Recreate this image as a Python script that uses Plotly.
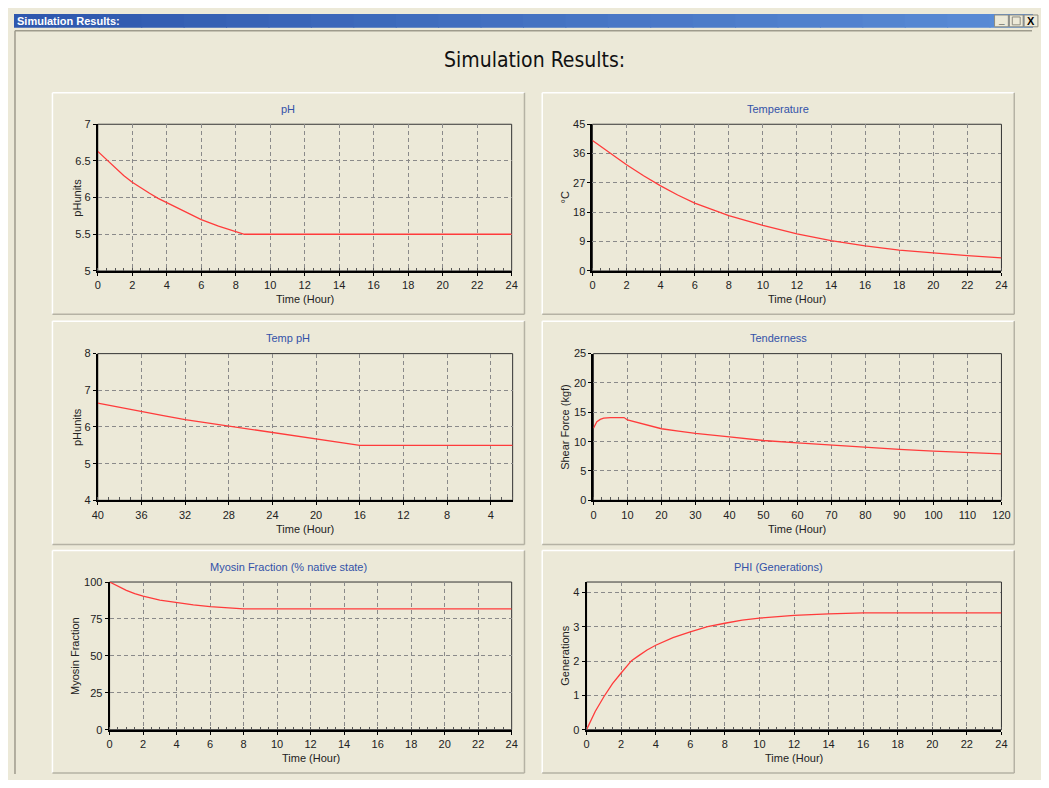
import plotly.graph_objects as go

# page is 1049x788; the HTML body keeps an 8px margin, so the figure is 1033x772
PAGE_W, PAGE_H = 1049, 788
OFF = 8
W, H = PAGE_W - 2 * OFF, PAGE_H - 2 * OFF

# ---------------- data ----------------
ph_t = [0, 0.5, 1, 1.5, 2, 2.5, 3, 3.5, 4, 5, 6, 7, 8, 8.5, 24]
ph_v = [6.63, 6.52, 6.41, 6.30, 6.21, 6.13, 6.06, 5.99, 5.93, 5.81, 5.70, 5.61, 5.54, 5.50, 5.50]

temp_t = [0, 1, 2, 3, 4, 5, 6, 7, 8, 10, 12, 14, 16, 18, 20, 22, 24]
temp_v = [40.0, 36.3, 32.6, 29.2, 26.1, 23.3, 20.8, 18.9, 17.0, 14.0, 11.4, 9.3, 7.7, 6.4, 5.5, 4.7, 4.0]

tph_t = [40, 38, 36, 34, 32, 30, 28, 26, 24, 22, 20, 18, 16, 2]
tph_v = [6.65, 6.53, 6.42, 6.31, 6.20, 6.11, 6.02, 5.93, 5.84, 5.76, 5.67, 5.58, 5.50, 5.50]

tend_t = [0, 0.5, 1, 2, 3, 5, 8, 9, 10, 12, 15, 20, 25, 30, 40, 50, 60, 70, 80, 90, 100, 110, 120]
tend_v = [12.3, 13.0, 13.4, 13.8, 14.0, 14.1, 14.15, 14.1, 13.7, 13.4, 12.9, 12.2, 11.8, 11.4,
          10.8, 10.2, 9.8, 9.4, 9.0, 8.7, 8.4, 8.1, 7.9]

myo_t = [0, 0.5, 1, 1.5, 2, 3, 4, 5, 6, 7, 8, 24]
myo_v = [100, 97.0, 94.4, 92.2, 90.4, 87.8, 86.0, 84.5, 83.4, 82.5, 81.8, 81.8]

phi_t = [0, 0.5, 1, 1.5, 2, 2.6, 3, 3.5, 4, 5, 6, 7, 8, 9, 10, 12, 14, 16, 24]
phi_v = [0, 0.53, 0.96, 1.34, 1.65, 2.01, 2.15, 2.32, 2.46, 2.68, 2.85, 3.0, 3.1, 3.19, 3.25,
         3.33, 3.37, 3.40, 3.40]

panel_titles = ["pH", "Temperature", "Temp pH", "Tenderness",
                "Myosin Fraction (% native state)", "PHI (Generations)"]
y_titles = ["pHunits", "°C", "pHunits", "Shear Force (kgf)", "Myosin Fraction", "Generations"]
x_title = "Time (Hour)"
main_title = "Simulation Results:"
window_title = "Simulation Results:"

series = [(ph_t, ph_v), (temp_t, temp_v), (tph_t, tph_v),
          (tend_t, tend_v), (myo_t, myo_v), (phi_t, phi_v)]

# axis settings: (x range, x dtick, x minor dtick, y range, y dtick)
axis_cfg = [
    ([0, 24], 2, 0.5, [5, 7], 0.5),
    ([0, 24], 2, 0.5, [0, 45], 9),
    ([40, 2], 4, 1, [4, 8], 1),
    ([0, 120], 10, 2.5, [0, 25], 5),
    ([0, 24], 2, 0.5, [0, 100], 25),
    ([0, 24], 2, 0.5, [0, 4.3], 1),
]

# ---------------- layout geometry (page pixels) ----------------
plot_px = [
    (93, 120, 513, 269),
    (595, 120, 1010, 269),
    (93, 353, 514, 502),
    (596, 353, 1010, 502),
    (105, 585, 513, 735),
    (589, 585, 1010, 735),
]
panel_px = [
    (47, 88, 526, 313),
    (544, 88, 1023, 313),
    (47, 320, 526, 547),
    (544, 320, 1023, 547),
    (47, 553, 526, 779),
    (544, 553, 1023, 779),
]
ytitle_x = [72, 567, 72, 567, 70, 567]


def X(px):
    return (px - OFF) / W


def Y(py):
    return 1 - (py - OFF) / H


BG = "#ECE9D8"
FONT = "Liberation Sans, Arial, sans-serif"

fig = go.Figure()
layout = dict(
    width=W, height=H, autosize=False,
    margin=dict(l=0, r=0, t=0, b=0),
    paper_bgcolor=BG, plot_bgcolor=BG,
    showlegend=False,
    font=dict(family=FONT, size=11, color="#222222"),
)
shapes = []
annotations = []

for i, ((t, v), (xr, xd, xm, yr, yd), (x0, y0, x1, y1)) in enumerate(zip(series, axis_cfg, plot_px)):
    n = "" if i == 0 else str(i + 1)
    fig.add_trace(go.Scatter(x=t, y=v, mode="lines", xaxis="x" + n, yaxis="y" + n,
                             line=dict(color="#FF3B3B", width=1.3), hoverinfo="x+y"))
    layout["xaxis" + n] = dict(
        domain=[X(x0), X(x1)], anchor="y" + n, range=xr,
        tick0=0, dtick=xd,
        showgrid=True, gridcolor="#8A8A8A", griddash="4px,3px", gridwidth=1,
        showline=True, linecolor="#000000", linewidth=2, mirror=False,
        ticks="outside", ticklen=3, tickcolor="#000000", tickwidth=1,
        minor=dict(dtick=xm, tick0=0, ticks="inside", ticklen=3,
                   tickcolor="#555555", showgrid=False),
        zeroline=False, tickfont=dict(size=11, color="#222222", family=FONT),
        fixedrange=True,
    )
    layout["yaxis" + n] = dict(
        domain=[Y(y1), Y(y0)], anchor="x" + n, range=yr, dtick=yd, tick0=0,
        showgrid=True, gridcolor="#8A8A8A", griddash="4px,3px", gridwidth=1,
        showline=True, linecolor="#000000", linewidth=2, mirror=False,
        ticks="outside", ticklen=3, tickcolor="#000000", tickwidth=1,
        zeroline=False, tickfont=dict(size=11, color="#222222", family=FONT),
        fixedrange=True,
    )
    # thin frame on top/right of plot area
    shapes.append(dict(type="rect", xref=f"x{n} domain", yref=f"y{n} domain",
                       x0=0, x1=1, y0=0, y1=1, line=dict(color="#333333", width=1),
                       layer="below"))
    # axis titles
    annotations.append(dict(text=x_title, xref="paper", yref="paper",
                            x=X((x0 + x1) / 2), y=Y(y1 + 29), showarrow=False,
                            xanchor="center", yanchor="middle",
                            font=dict(size=11, color="#222222", family=FONT)))
    annotations.append(dict(text=y_titles[i], xref="paper", yref="paper",
                            x=X(ytitle_x[i]), y=Y((y0 + y1) / 2), showarrow=False,
                            textangle=-90, xanchor="center", yanchor="middle",
                            font=dict(size=11, color="#222222", family=FONT)))

# panel boxes + titles
for i, (px0, py0, px1, py1) in enumerate(panel_px):
    shapes.append(dict(type="line", xref="paper", yref="paper", x0=X(px0), x1=X(px1),
                       y0=Y(py0), y1=Y(py0), line=dict(color="#FFFFFF", width=1.5), layer="below"))
    shapes.append(dict(type="line", xref="paper", yref="paper", x0=X(px0), x1=X(px0),
                       y0=Y(py0), y1=Y(py1), line=dict(color="#FFFFFF", width=1.5), layer="below"))
    shapes.append(dict(type="line", xref="paper", yref="paper", x0=X(px1), x1=X(px1),
                       y0=Y(py0), y1=Y(py1), line=dict(color="#B5B2A4", width=1.5), layer="below"))
    shapes.append(dict(type="line", xref="paper", yref="paper", x0=X(px0), x1=X(px1),
                       y0=Y(py1), y1=Y(py1), line=dict(color="#B5B2A4", width=1.5), layer="below"))
    annotations.append(dict(text=panel_titles[i], xref="paper", yref="paper",
                            x=X((px0 + px1) / 2), y=Y(py0 + 17), showarrow=False,
                            xanchor="center", yanchor="middle",
                            font=dict(size=11, color="#3352A8", family=FONT)))

# main title
annotations.append(dict(text=main_title, xref="paper", yref="paper", x=X(536), y=Y(55),
                        showarrow=False, xanchor="center", yanchor="middle",
                        font=dict(size=21, color="#111111",
                                  family="DejaVu Sans Condensed, Liberation Sans Narrow, DejaVu Sans, sans-serif")))

# window chrome: blue title bar (banded gradient), frame
nb = 24
c0 = (0x2F, 0x58, 0xAE)
c1 = (0x5A, 0x8C, 0xD6)
for k in range(nb):
    f = k / (nb - 1)
    col = "#%02X%02X%02X" % tuple(int(a + (b - a) * f) for a, b in zip(c0, c1))
    shapes.append(dict(type="rect", xref="paper", yref="paper",
                       x0=X(OFF + W * k / nb), x1=X(OFF + W * (k + 1) / nb + 1),
                       y0=Y(22), y1=Y(OFF), fillcolor=col, line=dict(width=0), layer="below"))
# inner window frame
shapes.append(dict(type="line", xref="paper", yref="paper", x0=X(9), x1=X(9), y0=0, y1=Y(25),
                   line=dict(color="#9E9B8C", width=1.5), layer="below"))
shapes.append(dict(type="line", xref="paper", yref="paper", x0=X(9), x1=1, y0=Y(25), y1=Y(25),
                   line=dict(color="#9E9B8C", width=1.5), layer="below"))
annotations.append(dict(text="<b>" + window_title + "</b>", xref="paper", yref="paper",
                        x=X(9), y=Y(15), showarrow=False, xanchor="left", yanchor="middle",
                        font=dict(size=11, color="#FFFFFF", family=FONT)))
# window buttons
for bx0, glyph in [(1003, "_"), (1018, ""), (1033, "X")]:
    shapes.append(dict(type="rect", xref="paper", yref="paper", x0=X(bx0), x1=X(bx0 + 14),
                       y0=Y(21), y1=Y(9), fillcolor="#ECE9D8",
                       line=dict(color="#8E8C80", width=1), layer="above"))
    if glyph:
        annotations.append(dict(text="<b>" + glyph + "</b>", xref="paper", yref="paper",
                                x=X(bx0 + 7), y=Y(14 if glyph == "_" else 15), showarrow=False,
                                xanchor="center", yanchor="middle",
                                font=dict(size=11 if glyph == "X" else 10, color="#000000",
                                          family=FONT)))
shapes.append(dict(type="rect", xref="paper", yref="paper", x0=X(1021), x1=X(1029),
                   y0=Y(19), y1=Y(11), line=dict(color="#8E8C80", width=1),
                   fillcolor="rgba(0,0,0,0)", layer="above"))

layout["shapes"] = shapes
layout["annotations"] = annotations
fig.update_layout(**layout)

fig.write_html("out.html", config={"displayModeBar": False})
